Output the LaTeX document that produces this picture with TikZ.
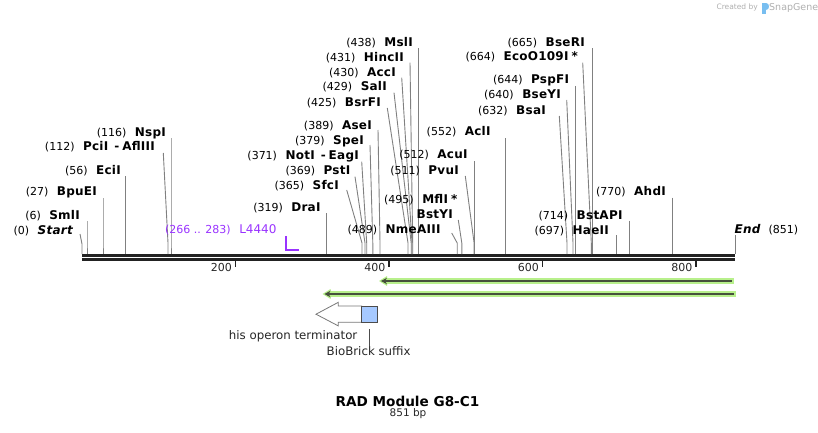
\documentclass[tikz,border=0pt]{standalone}
\usepackage{fontspec}
\setmainfont{DejaVu Sans}
\usetikzlibrary{arrows.meta}
\definecolor{cutgray}{RGB}{128,128,128}
\definecolor{bbcol}{RGB}{34,34,34}
\definecolor{primcol}{RGB}{153,51,255}
\definecolor{halocol}{RGB}{184,240,140}
\definecolor{featdark}{RGB}{70,80,60}
\definecolor{suffixcol}{RGB}{166,201,255}
\definecolor{outlinegray}{RGB}{120,120,120}
\definecolor{logogray}{RGB}{175,175,175}
\definecolor{logoblue}{RGB}{120,190,240}
\newcommand\numfont{\fontsize{11}{13}\selectfont}
\newcommand\enzfont{\bfseries\fontsize{12}{14}\selectfont\addfontfeature{LetterSpace=2}}
\newcommand\enztxt[2]{{\numfont(#1)}\hspace{8.5pt}{\enzfont #2}}
\newcommand\enzsite[7]{%
  \node[enzlab] (l#1) at (#5,#6+4) {#7};
  \coordinate (t#1) at (#3,#4);
  \coordinate (b#1) at (#2,243);
  \coordinate (s#1) at (#2,254);
  \draw[cut] (t#1) -- (b#1) -- (s#1);
}
\tikzset{
  enzlab/.style={anchor=base east, inner sep=0pt, text=black},
  cut/.style={draw=cutgray, line width=0.9pt},
  backbone/.style={draw=bbcol, line width=2.7pt},
  ticklab/.style={anchor=base east, inner sep=0pt, font=\numfont, text=black!85},
  tickmark/.style={draw=bbcol, line width=1.8pt},
  halo/.style={draw=halocol, line width=6.5pt},
  featline/.style={draw=featdark, line width=2.2pt, -{Stealth[length=6pt,width=6.5pt]}},
  featlab/.style={inner sep=0pt, font=\fontsize{11.8}{13}\selectfont, text=black!85},
}
\begin{document}
\begin{tikzpicture}[x=1pt,y=-1pt]
\useasboundingbox (0,0) rectangle (818,433);

% logo
\node[anchor=base east, inner sep=0pt, font=\fontsize{7.5}{9}\selectfont, text=logogray] (logoa) at (758,10) {Created by};
\fill[logoblue] (762,3) rectangle (765.5,14);
\fill[logoblue] (765.5,3) .. controls (770,3) and (770,10) .. (765.5,10) -- cycle;
\node[anchor=base west, inner sep=0pt, font=\fontsize{9.5}{11}\selectfont, text=logogray] (logob) at (769,10.5) {SnapGene};

% backbone
\draw[backbone] (82,255.3) -- (735,255.3);
\draw[backbone] (82,259.3) -- (735,259.3);

% scale
\foreach \p/\xx in {200/235.5,400/389,600/542.5,800/696}{
  \draw[tickmark] (\xx,260.5) -- (\xx,267);
  \node[ticklab] (tk\p) at (\xx-3.5,271) {\p};
}

% Start
\node[enzlab] (lStart) at (73,234) {{\numfont(0)}\hspace{8.5pt}{\enzfont\itshape Start}};
\coordinate (tStart) at (80,234);
\coordinate (bStart) at (82,244);
\coordinate (sStart) at (82,254);
\draw[cut] (tStart) -- (bStart) -- (sStart);

\enzsite{SmlI}{87}{87}{221}{80}{215}{\enztxt{6}{SmlI}}
\enzsite{BpuEI}{103}{103}{198}{97}{191.7}{\enztxt{27}{BpuEI}}
\enzsite{EciI}{125.3}{125.3}{176}{121}{170}{\enztxt{56}{EciI}}
\enzsite{PciI}{168}{163.3}{153}{155}{146}{\enztxt{112}{PciI\hspace{6pt}-\hspace{3pt}AflIII}}
\enzsite{NspI}{171}{171}{138}{166}{132}{\enztxt{116}{NspI}}
\enzsite{DraI}{326.5}{326.5}{213}{320.7}{207}{\enztxt{319}{DraI}}
\enzsite{SfcI}{362}{346.7}{190}{339}{185}{\enztxt{365}{SfcI}}
\enzsite{PstI}{365}{355}{176.7}{350.5}{170}{\enztxt{369}{PstI}}
\enzsite{NotI}{366.7}{361.7}{161.7}{359}{155}{\enztxt{371}{NotI\hspace{6pt}-\hspace{3pt}EagI}}
\enzsite{SpeI}{372.8}{370}{145}{364}{140}{\enztxt{379}{SpeI}}
\enzsite{AseI}{380}{378}{130}{372}{125}{\enztxt{389}{AseI}}
\enzsite{BsrFI}{408}{387.3}{108}{381}{102.7}{\enztxt{425}{BsrFI}}
\enzsite{SalI}{411.2}{394}{92.7}{387}{86.7}{\enztxt{429}{SalI}}
\enzsite{AccI}{412}{401.7}{77.7}{396}{72.3}{\enztxt{430}{AccI}}
\enzsite{HincII}{412.7}{410}{62.7}{404}{57.3}{\enztxt{431}{HincII}}
\enzsite{MslI}{418.3}{418.3}{48.3}{413}{42.7}{\enztxt{438}{MslI}}
\enzsite{NmeAIII}{457.2}{451.7}{233}{440.7}{229}{\enztxt{489}{NmeAIII}}
\enzsite{MflI}{461.8}{458.3}{220}{457.5}{199.3}{\enztxt{495}{MflI\hspace{3pt}*}}
\node[enzlab] (lBstYI) at (453,218.3) {\enzfont BstYI};
\enzsite{PvuI}{474.1}{465.3}{176}{459}{170}{\enztxt{511}{PvuI}}
\enzsite{AcuI}{474.9}{474.9}{161}{467.7}{154.3}{\enztxt{512}{AcuI}}
\enzsite{AclI}{505.7}{505.7}{138}{490.7}{131.7}{\enztxt{552}{AclI}}
\enzsite{BsaI}{567}{559.3}{116}{546}{110}{\enztxt{632}{BsaI}}
\enzsite{BseYI}{573}{566.7}{100}{561}{94.3}{\enztxt{640}{BseYI}}
\enzsite{PspFI}{575.5}{575.5}{86}{569.3}{80}{\enztxt{644}{PspFI}}
\enzsite{EcoO}{591.3}{582.7}{62.7}{578}{56.7}{\enztxt{664}{EcoO109I\hspace{3pt}*}}
\enzsite{BseRI}{592.2}{592.2}{48.3}{585}{42.3}{\enztxt{665}{BseRI}}
\enzsite{HaeII}{616.5}{616.5}{235}{609}{230}{\enztxt{697}{HaeII}}
\enzsite{BstAPI}{629.5}{629.5}{220.7}{622.7}{215}{\enztxt{714}{BstAPI}}
\enzsite{AhdI}{672.5}{672.5}{197.7}{666}{191.7}{\enztxt{770}{AhdI}}

% End
\node[anchor=base west, inner sep=0pt] (lEnd) at (734.5,233) {{\enzfont\itshape End}\hspace{8pt}{\numfont(851)}};
\coordinate (tEnd) at (735,235);
\coordinate (sEnd) at (735,254);
\draw[cut] (tEnd) -- (sEnd);

% primer L4440
\node[anchor=base east, inner sep=0pt, text=primcol] (lPrim) at (276.7,233.5) {{\numfont(266 .. 283)}\hspace{8.5pt}{\fontsize{12}{14}\selectfont L4440}};
\coordinate (pa) at (285.8,236);
\coordinate (pb) at (285.8,250.3);
\coordinate (pc) at (298.5,250.3);
\draw[draw=primcol, line width=1.8pt] (pa) -- (pb) -- (pc);

% green features
\coordinate (f1r) at (734,281);
\coordinate (f1l) at (381,281);
\coordinate (f2r) at (736,294);
\coordinate (f2l) at (324.5,294);
\draw[halo] (f1r) -- ([xshift=2pt]f1l);
\fill[halocol] ([xshift=-2pt]f1l) -- ([xshift=6pt,yshift=-5pt]f1l) -- ([xshift=6pt,yshift=5pt]f1l) -- cycle;
\draw[featline] ([xshift=-2.5pt]f1r) -- (f1l);
\draw[halo] (f2r) -- ([xshift=2pt]f2l);
\fill[halocol] ([xshift=-2pt]f2l) -- ([xshift=6pt,yshift=-5pt]f2l) -- ([xshift=6pt,yshift=5pt]f2l) -- cycle;
\draw[featline] ([xshift=-2.5pt]f2r) -- (f2l);

% his operon terminator arrow
\draw[draw=outlinegray, fill=white, line width=0.8pt]
  (361.7,306) -- (338.3,306) -- (338.3,302.3) -- (316,314.2) -- (338.3,325.9) -- (338.3,322.3) -- (361.7,322.3) -- cycle;
\node[draw=black!70, fill=suffixcol, line width=0.8pt, minimum width=16pt, minimum height=16.3pt, inner sep=0pt] (suffix) at (369.7,314.15) {};
\node[featlab, anchor=base east] (lterm) at (357.5,339.5) {his operon terminator};
\node[featlab, anchor=base west] (lsuffix) at (326.5,355) {BioBrick suffix};
\coordinate (sufa) at (369.7,329.3);
\draw[draw=black!70, line width=0.7pt] (sufa) -- (lsuffix.north -| sufa);

% title
\node[anchor=base, inner sep=0pt, font=\bfseries\fontsize{13.6}{16}\selectfont] (title) at (407.5,406) {RAD Module G8-C1};
\node[anchor=base, inner sep=0pt, font=\fontsize{10.5}{12}\selectfont, text=black!85] (bp) at (408,416) {851 bp};
\end{tikzpicture}
\end{document}
